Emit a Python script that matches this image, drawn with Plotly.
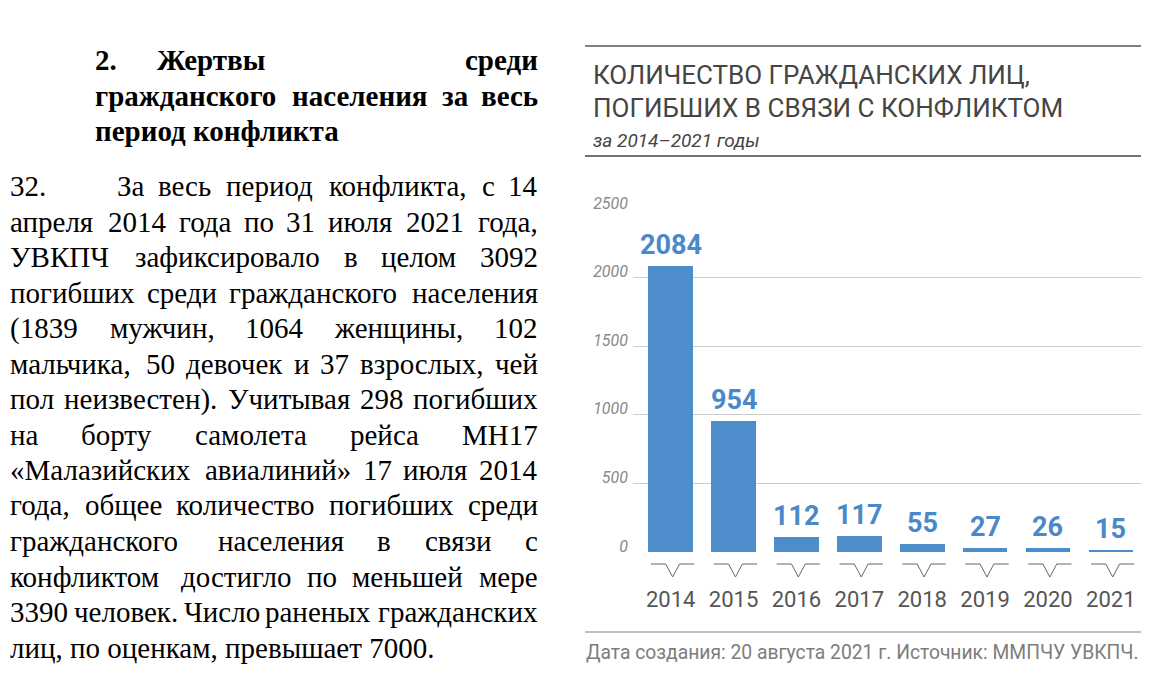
import plotly.graph_objects as go

# ---------------------------------------------------------------------------
# Data
# ---------------------------------------------------------------------------
YEARS = ["2014", "2015", "2016", "2017", "2018", "2019", "2020", "2021"]
DEATHS = [2084, 954, 112, 117, 55, 27, 26, 15]
Y_TICKS = [0, 500, 1000, 1500, 2000, 2500]

TITLE_LINES = ["КОЛИЧЕСТВО ГРАЖДАНСКИХ ЛИЦ,", "ПОГИБШИХ В СВЯЗИ С КОНФЛИКТОМ"]
SUBTITLE = "за 2014–2021 годы"
SOURCE = "Дата создания: 20 августа 2021 г. Источник: ММПЧУ УВКПЧ."

HEADING_NUM = "2."
HEADING_LINES = [
    "Жертвы среди",
    "гражданского населения за весь",
    "период конфликта",
]
BODY_NUM = "32."
BODY_LINES = [
    "За весь период конфликта, с 14",
    "апреля 2014 года по 31 июля 2021 года,",
    "УВКПЧ зафиксировало в целом 3092",
    "погибших среди гражданского населения",
    "(1839 мужчин, 1064 женщины, 102",
    "мальчика, 50 девочек и 37 взрослых, чей",
    "пол неизвестен). Учитывая 298 погибших",
    "на борту самолета рейса MH17",
    "«Малазийских авиалиний» 17 июля 2014",
    "года, общее количество погибших среди",
    "гражданского населения в связи с",
    "конфликтом достигло по меньшей мере",
    "3390 человек. Число раненых гражданских",
    "лиц, по оценкам, превышает 7000.",
]

# ---------------------------------------------------------------------------
# Style
# ---------------------------------------------------------------------------
W, H = 1175, 699
BAR_COLOR = "#4E8DCB"
LABEL_COLOR = "#4A89C8"
DARK = "#454545"
SERIF = "Liberation Serif, Times New Roman, serif"
SANS = "Roboto, Liberation Sans, sans-serif"

# rough Times widths (em) used only to spread justified words
CHAR_W = {
    "а": .444, "б": .509, "в": .472, "г": .410, "д": .509, "е": .444, "ж": .691,
    "з": .395, "и": .535, "й": .535, "к": .486, "л": .499, "м": .633, "н": .535,
    "о": .500, "п": .535, "р": .500, "с": .444, "т": .437, "у": .500, "ф": .648,
    "х": .500, "ц": .535, "ч": .503, "ш": .770, "щ": .770, "ъ": .517, "ы": .672,
    "ь": .456, "э": .441, "ю": .747, "я": .493,
    "Ж": .896, "З": .501, "У": .715, "В": .667, "К": .667, "П": .722, "Ч": .650,
    "М": .889, "M": .889, "H": .722,
    ".": .25, ",": .25, "(": .333, ")": .333, "«": .5, "»": .5,
}


def px_x(x):
    return x / W


def px_y(y):
    return 1 - y / H


def est_width(word, size, bold):
    em = sum(CHAR_W.get(c, 0.5) for c in word)
    return em * size * (1.02 if not bold else 1.08)


def text_line(line, x0, x1, y, size, bold, justify):
    font = dict(family=SERIF, size=size, color="black",
                weight="bold" if bold else "normal")
    base = dict(xref="paper", yref="paper", y=px_y(y), yanchor="middle",
                showarrow=False, font=font, borderpad=0, borderwidth=0)
    words = line.split()
    if not justify or len(words) < 2:
        return [dict(base, text=line, x=px_x(x0), xanchor="left")]
    widths = [est_width(w, size, bold) for w in words]
    gap = (x1 - x0 - sum(widths)) / (len(words) - 1)
    anns = []
    x = x0
    for i, (w, wd) in enumerate(zip(words, widths)):
        if i == 0:
            anns.append(dict(base, text=w, x=px_x(x0), xanchor="left"))
        elif i == len(words) - 1:
            anns.append(dict(base, text=w, x=px_x(x1), xanchor="right"))
        else:
            anns.append(dict(base, text=w, x=px_x(x + wd / 2), xanchor="center"))
        x += wd + gap
    return anns


# ---------------------------------------------------------------------------
# Figure
# ---------------------------------------------------------------------------
xs = list(range(len(YEARS)))

fig = go.Figure(
    go.Bar(
        x=xs,
        y=DEATHS,
        width=0.71,
        marker=dict(color=BAR_COLOR, line=dict(width=0)),
        hoverinfo="skip",
    )
)

annotations = []

# value labels above bars
for x, v in zip(xs, DEATHS):
    annotations.append(dict(
        x=x, y=v, xref="x", yref="y", text=str(v), showarrow=False,
        yanchor="middle", yshift=21,
        font=dict(family=SANS, size=27, color=LABEL_COLOR, weight="bold"),
    ))

# chart title block
title_font = dict(family=SANS, size=26, color=DARK)
annotations += [
    dict(xref="paper", yref="paper", x=px_x(591), y=px_y(75), text=TITLE_LINES[0],
         xanchor="left", yanchor="middle", showarrow=False, font=title_font),
    dict(xref="paper", yref="paper", x=px_x(591), y=px_y(108), text=TITLE_LINES[1],
         xanchor="left", yanchor="middle", showarrow=False, font=title_font),
    dict(xref="paper", yref="paper", x=px_x(591), y=px_y(140), text=SUBTITLE,
         xanchor="left", yanchor="middle", showarrow=False,
         font=dict(family=SANS, size=19, color=DARK, style="italic")),
    dict(xref="paper", yref="paper", x=px_x(1141), y=px_y(652), text=SOURCE,
         xanchor="right", yanchor="middle", showarrow=False,
         font=dict(family=SANS, size=19.3, color="#7d7d7d")),
]

# left-hand document text
head_y = [60, 96, 131]
annotations += text_line(HEADING_NUM, 95, 95, head_y[0], 29, True, False)
for i, line in enumerate(HEADING_LINES):
    x0 = 157 if i == 0 else 95
    annotations += text_line(line, x0, 538, head_y[i], 29, True,
                             i < len(HEADING_LINES) - 1)

annotations += text_line(BODY_NUM, 10, 10, 186, 29, False, False)
for i, line in enumerate(BODY_LINES):
    x0 = 117 if i == 0 else 10
    annotations += text_line(line, x0, 538, 186 + 35.5 * i, 29, False,
                             i < len(BODY_LINES) - 1)

# rules
shapes = []
for y, col in [(46, "#555555"), (156, "#444444"), (632, "#aaaaaa")]:
    shapes.append(dict(type="line", xref="paper", yref="paper",
                       x0=px_x(585), x1=px_x(1141), y0=px_y(y), y1=px_y(y),
                       line=dict(color=col, width=1.5)))

# small chevrons under every bar
top, tip = px_y(564), px_y(577)
for x in xs:
    c = x + 0.03
    path = (f"M {c - 0.345},{top} L {c - 0.11},{top} L {c},{tip} "
            f"L {c + 0.11},{top} L {c + 0.345},{top}")
    shapes.append(dict(type="path", xref="x", yref="paper", path=path,
                       line=dict(color="#666666", width=1)))

fig.update_layout(
    width=W,
    height=H,
    margin=dict(l=0, r=0, t=0, b=0, autoexpand=False),
    paper_bgcolor="white",
    plot_bgcolor="white",
    showlegend=False,
    bargap=0,
    annotations=annotations,
    shapes=shapes,
    xaxis=dict(
        domain=[px_x(633), px_x(1141)],
        range=[-0.6, 7.48],
        tickvals=xs,
        ticktext=YEARS,
        automargin=False,
        showgrid=False,
        zeroline=False,
        showline=False,
        ticks="",
        ticklabelstandoff=32,
        tickfont=dict(family=SANS, size=22, color="#555555"),
    ),
    yaxis=dict(
        domain=[px_y(552), px_y(209)],
        range=[0, 2500],
        tickvals=Y_TICKS,
        automargin=False,
        showgrid=True,
        gridcolor="#cccccc",
        gridwidth=1,
        zeroline=False,
        showline=False,
        ticks="",
        ticklabelstandoff=4,
        ticklabelshift=-6,
        tickfont=dict(family=SANS, size=16, color="#8a8a8a", style="italic"),
    ),
)

fig.write_html(
    "out.html",
    config={"displayModeBar": False},
    post_script="document.body.style.margin = '0';",
)
